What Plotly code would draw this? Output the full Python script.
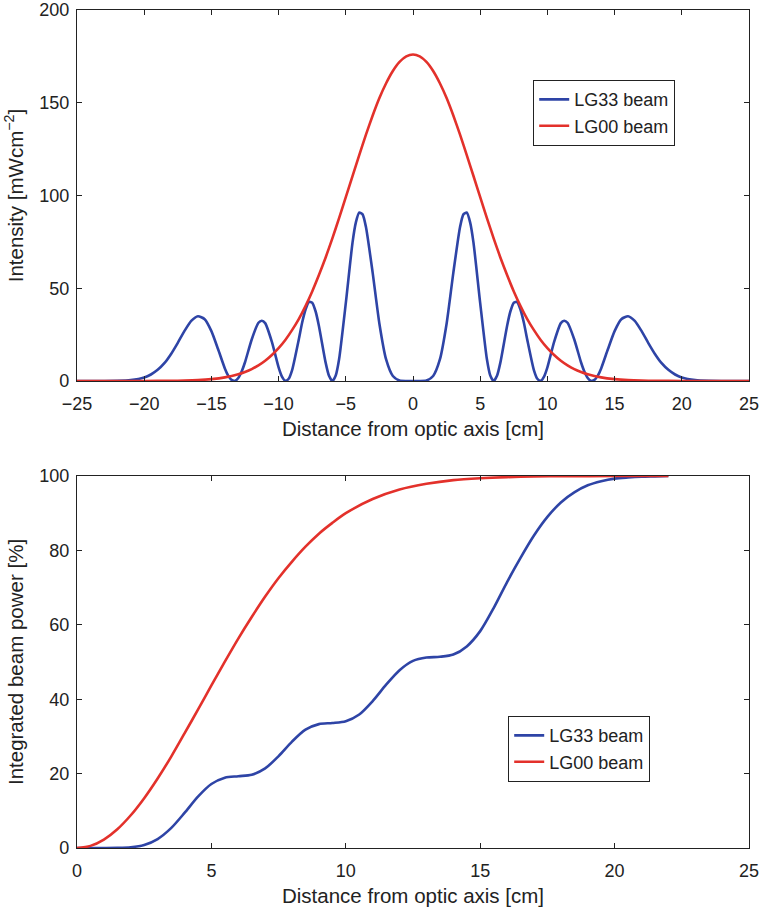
import plotly.graph_objects as go

# ---------------- Top panel: intensity profiles ----------------
r_lg33 = [0, 0.5, 1, 1.5, 2, 2.5, 3, 3.5, 3.75, 4, 4.25, 4.5, 5, 5.5, 5.75, 6, 6.25, 6.5, 7, 7.25,
          7.5, 7.75, 8, 8.25, 8.5, 9, 9.25, 9.5, 9.75, 10, 10.5, 11, 11.25, 11.5, 12, 12.5, 12.75,
          13, 13.25, 13.5, 13.75, 14, 14.5, 15, 15.5, 16, 16.5, 17, 17.5, 18, 18.5, 19, 19.5, 20,
          21, 22, 23, 25]
i_lg33 = [0, 0.005, 0.29, 2.7, 11.6, 30.9, 58.3, 83.0, 89.8, 90.8, 85.5, 74.6, 42.0, 11.7, 2.96, 0,
          2.8, 9.9, 29.7, 37.6, 42.2, 42.6, 38.4, 31.4, 22.3, 5.7, 1.2, 0.1, 2.4, 7.4, 21.1, 31.2,
          32.5, 31.4, 22.4, 10.1, 5.1, 1.6, 0.07, 0.57, 2.9, 6.8, 17.1, 26.9, 33.3, 34.9, 32.4, 27.0,
          20.6, 14.6, 9.6, 6.0, 3.5, 1.9, 0.5, 0.1, 0.02, 0]

r_lg00 = [0, 0.5, 1, 1.5, 2, 2.5, 3, 3.5, 4, 4.5, 5, 5.5, 6, 6.5, 7, 7.5, 8, 8.5, 9, 9.5, 10,
          10.5, 11, 11.5, 12, 12.5, 13, 14, 15, 16, 17, 18, 20, 22, 25]
i_lg00 = [176, 175.0, 172.0, 167.1, 160.5, 152.5, 143.1, 132.8, 121.8, 110.5, 99.1, 87.8, 76.9,
          66.6, 57.1, 48.3, 40.4, 33.4, 27.4, 22.1, 17.7, 14.0, 10.9, 8.4, 6.4, 4.85, 3.6, 1.94,
          1.0, 0.49, 0.23, 0.1, 0.02, 0, 0]

# full profiles over the negative and positive side
x_lg33 = [-v for v in reversed(r_lg33[1:])] + r_lg33
y_lg33 = list(reversed(i_lg33[1:])) + i_lg33
x_lg00 = [-v for v in reversed(r_lg00[1:])] + r_lg00
y_lg00 = list(reversed(i_lg00[1:])) + i_lg00

# ---------------- Bottom panel: integrated power ----------------
p_r_lg33 = [0, 0.5, 1, 1.5, 2, 2.5, 3, 3.5, 4, 4.5, 5, 5.5, 6, 6.5, 7, 7.5, 8, 8.5, 9, 9.5, 10,
            10.5, 11, 11.5, 12, 12.5, 13, 13.5, 14, 14.5, 15, 15.5, 16, 16.5, 17, 17.5, 18, 18.5,
            19, 19.5, 20, 20.5, 21, 21.5, 22]
p_lg33 = [0, 0, 0.002, 0.03, 0.2, 0.83, 2.41, 5.33, 9.42, 13.8, 17.2, 18.9, 19.3, 19.7, 21.4,
          24.7, 28.6, 31.8, 33.3, 33.6, 34.1, 35.9, 39.5, 43.9, 47.8, 50.3, 51.2, 51.4, 52.0, 54.2,
          58.3, 64.5, 71.5, 78.0, 84.0, 89.0, 92.9, 95.6, 97.5, 98.6, 99.3, 99.6, 99.8, 99.9, 100]

p_r_lg00 = [0, 0.5, 1, 1.5, 2, 2.5, 3, 3.5, 4, 4.5, 5, 5.5, 6, 6.5, 7, 7.5, 8, 8.5, 9, 9.5, 10,
            11, 12, 13, 14, 15, 16, 17, 18, 20, 22]
p_lg00 = [0, 0.57, 2.27, 5.04, 8.8, 13.4, 18.7, 24.5, 30.8, 37.2, 43.7, 50.1, 56.3, 62.1, 67.6,
          72.6, 77.0, 81.0, 84.5, 87.4, 90.0, 93.8, 96.35, 97.9, 98.9, 99.4, 99.7, 99.87, 99.94,
          99.99, 100]

BLUE = "#2E44A6"
RED = "#E3312B"
TXT = "#222222"
FONT = "Liberation Sans, Arial, Helvetica, sans-serif"
TICK = 18
TITLE = 20.5

fig = go.Figure()
fig.add_trace(go.Scatter(x=x_lg33, y=y_lg33, mode="lines", name="LG33 beam",
                         line=dict(color=BLUE, width=2.6, shape="spline", smoothing=0.6),
                         xaxis="x", yaxis="y", legend="legend"))
fig.add_trace(go.Scatter(x=x_lg00, y=y_lg00, mode="lines", name="LG00 beam",
                         line=dict(color=RED, width=2.6, shape="spline", smoothing=0.6),
                         xaxis="x", yaxis="y", legend="legend"))
fig.add_trace(go.Scatter(x=p_r_lg33, y=p_lg33, mode="lines", name="LG33 beam",
                         line=dict(color=BLUE, width=2.6, shape="spline", smoothing=0.8),
                         xaxis="x2", yaxis="y2", legend="legend2"))
fig.add_trace(go.Scatter(x=p_r_lg00, y=p_lg00, mode="lines", name="LG00 beam",
                         line=dict(color=RED, width=2.6, shape="spline", smoothing=0.8),
                         xaxis="x2", yaxis="y2", legend="legend2"))

axis_common = dict(showline=True, linecolor="#222222", linewidth=1.2, mirror="ticks",
                   ticks="inside", ticklen=5, tickcolor="#222222", tickwidth=1,
                   showgrid=False, zeroline=False, automargin=False,
                   tickfont=dict(family=FONT, size=TICK, color=TXT))

H = 909
mt, mb = 10, 61
ph = H - mt - mb
title_font = dict(family=FONT, size=TITLE, color=TXT)

fig.update_layout(
    width=760, height=909,
    margin=dict(l=77, r=11, t=mt, b=mb),
    paper_bgcolor="white", plot_bgcolor="white",
    font=dict(family=FONT, size=18, color=TXT),
    xaxis=dict(axis_common, domain=[0, 1], range=[-25, 25], dtick=5, anchor="y",
               ticklabelstandoff=6,
               title=dict(text="Distance from optic axis [cm]", standoff=8, font=title_font)),
    yaxis=dict(axis_common, domain=[(848 - 381) / ph, 1], range=[0, 200], dtick=50, anchor="x",
               ticklabelstandoff=3,
               title=dict(text="Intensity [mWcm<sup>−2</sup>]", standoff=10, font=title_font)),
    xaxis2=dict(axis_common, domain=[0, 1], range=[0, 25], dtick=5, anchor="y2",
                ticklabelstandoff=6,
                title=dict(text="Distance from optic axis [cm]", standoff=8, font=title_font)),
    yaxis2=dict(axis_common, domain=[0, (848 - 476) / ph], range=[0, 100], dtick=20, anchor="x2",
                ticklabelstandoff=3,
                title=dict(text="Integrated beam power [%]", standoff=10, font=title_font)),
    legend=dict(x=(533 - 77) / 672, y=(848 - 80) / ph, xanchor="left", yanchor="top",
                bordercolor="#222222", borderwidth=1.2, bgcolor="white",
                font=dict(family=FONT, size=18, color=TXT), tracegroupgap=0,
                itemwidth=30),
    legend2=dict(x=(508 - 77) / 672, y=(848 - 716) / ph, xanchor="left", yanchor="top",
                 bordercolor="#222222", borderwidth=1.2, bgcolor="white",
                 font=dict(family=FONT, size=18, color=TXT), tracegroupgap=0,
                 itemwidth=30),
)

fig.write_html("out.html")
